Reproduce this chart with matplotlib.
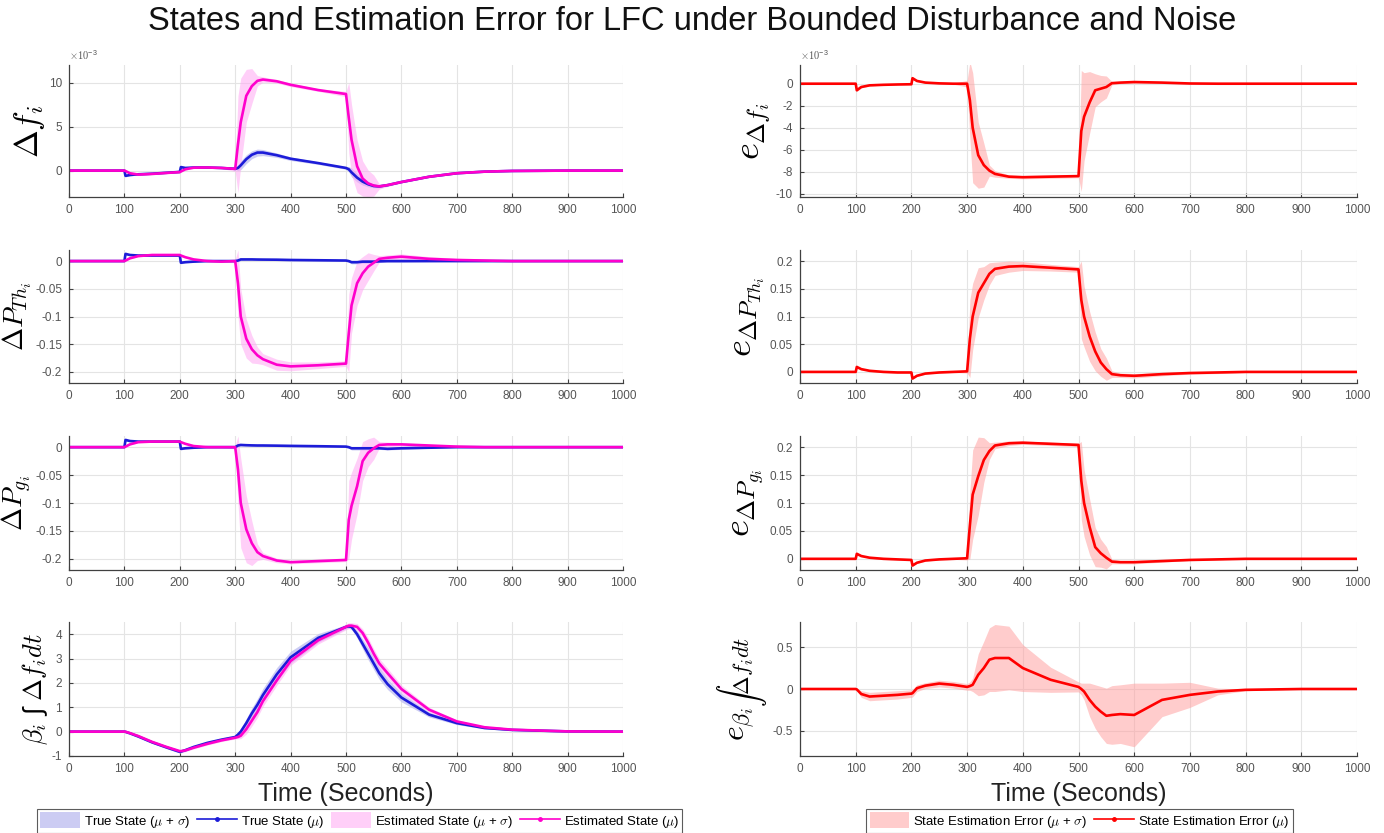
import matplotlib
matplotlib.use('Agg')
import matplotlib.pyplot as plt
import numpy as np
from matplotlib.patches import Patch
from matplotlib.lines import Line2D
from matplotlib.ticker import FuncFormatter

plt.rcParams['font.family'] = ['Liberation Sans', 'DejaVu Sans']
plt.rcParams['mathtext.fontset'] = 'cm'
plt.rcParams['axes.unicode_minus'] = False

# ---------------- data ----------------
T = [0, 100, 102, 110, 125, 150, 175, 200, 202, 210, 225, 250, 275, 300, 305, 310, 320, 330, 340, 350,
     375, 400, 450, 500, 505, 510, 520, 530, 540, 550, 560, 575, 600, 650, 700, 750, 800, 900, 1000]

# Delta f_i  (x 1e-3)
true_df = [0, 0, -0.6, -0.5, -0.42, -0.35, -0.25, -0.15, 0.4, 0.3, 0.35, 0.35, 0.3, 0.2,
           0.3, 0.6, 1.3, 1.8, 2.05, 2.05, 1.75, 1.35, 0.85, 0.3,
           0.15, -0.2, -0.8, -1.25, -1.55, -1.75, -1.8, -1.65, -1.3, -0.7,
           -0.3, -0.12, -0.04, 0, 0]
sig_true_df = [0.02, 0.02, 0.1, 0.1, 0.08, 0.06, 0.06, 0.06, 0.1, 0.08, 0.05, 0.05, 0.05, 0.05,
               0.3, 0.5, 0.5, 0.45, 0.4, 0.35, 0.25, 0.2, 0.15, 0.15,
               0.3, 0.5, 0.5, 0.4, 0.3, 0.2, 0.15, 0.1, 0.08, 0.06,
               0.04, 0.02, 0.01, 0.01, 0.01]
est_df = [0, 0, -0.05, -0.3, -0.45, -0.38, -0.27, -0.17, -0.1, 0.15, 0.33, 0.35, 0.3, 0.2,
          3.0, 5.5, 8.5, 9.6, 10.2, 10.35, 10.15, 9.75, 9.15, 8.7,
          6.0, 3.5, 0.5, -0.9, -1.45, -1.7, -1.8, -1.65, -1.3, -0.7,
          -0.3, -0.12, -0.04, 0, 0]
sig_est_df = [0.02, 0.02, 0.05, 0.1, 0.08, 0.06, 0.06, 0.06, 0.06, 0.08, 0.05, 0.05, 0.05, 0.3,
              5.5, 5.0, 3.0, 2.0, 0.6, 0.3, 0.2, 0.2, 0.15, 0.3,
              4.0, 4.0, 3.0, 2.0, 1.5, 1.2, 0.3, 0.15, 0.1, 0.08,
              0.05, 0.03, 0.02, 0.01, 0.01]

# Delta P_Th_i
true_pth = [0, 0, 0.013, 0.011, 0.01, 0.01, 0.01, 0.01, -0.003, -0.002, -0.001, 0, 0, 0,
            0.001, 0.003, 0.003, 0.003, 0.0028, 0.0027, 0.0025, 0.002, 0.0015, 0.001,
            0.0, -0.002, -0.002, -0.001, -0.001, -0.001, -0.0005, 0, 0, 0,
            0, 0, 0, 0, 0]
sig_true_pth = [0.0005, 0.0005, 0.002, 0.001, 0.001, 0.001, 0.001, 0.001, 0.002, 0.001, 0.001, 0.0005, 0.0005, 0.0005,
                0.002, 0.002, 0.0015, 0.0015, 0.0015, 0.0015, 0.0015, 0.0015, 0.0015, 0.0015,
                0.002, 0.003, 0.003, 0.003, 0.003, 0.002, 0.002, 0.002, 0.002, 0.001,
                0.0005, 0.0005, 0.0005, 0.0005, 0.0005]
est_pth = [0, 0, 0.001, 0.005, 0.009, 0.011, 0.011, 0.011, 0.01, 0.007, 0.003, 0.0, -0.001, 0.0,
           -0.04, -0.1, -0.14, -0.159, -0.17, -0.177, -0.187, -0.19, -0.188, -0.185,
           -0.13, -0.08, -0.04, -0.022, -0.01, -0.003, 0.004, 0.006, 0.008, 0.004,
           0.002, 0.001, 0, 0, 0]
sig_est_pth = [0.0005, 0.0005, 0.001, 0.001, 0.001, 0.001, 0.001, 0.001, 0.001, 0.001, 0.001, 0.001, 0.001, 0.003,
               0.06, 0.05, 0.035, 0.025, 0.015, 0.01, 0.01, 0.008, 0.006, 0.005,
               0.07, 0.05, 0.04, 0.03, 0.025, 0.015, 0.006, 0.005, 0.005, 0.004,
               0.003, 0.002, 0.001, 0.0005, 0.0005]

# Delta P_g_i
true_pg = [0, 0, 0.013, 0.011, 0.01, 0.01, 0.01, 0.01, -0.003, -0.002, -0.001, 0, 0, 0,
           0.003, 0.004, 0.0035, 0.0032, 0.003, 0.003, 0.0027, 0.0023, 0.0017, 0.001,
           0.0, -0.002, -0.002, -0.002, -0.002, -0.002, -0.002, -0.003, -0.002, -0.001,
           0, 0, 0, 0, 0]
sig_true_pg = sig_true_pth
est_pg = [0, 0, 0.001, 0.005, 0.009, 0.01, 0.01, 0.01, 0.009, 0.006, 0.002, 0.0, 0.0, 0.0,
          -0.04, -0.1, -0.147, -0.172, -0.188, -0.195, -0.203, -0.206, -0.204, -0.202,
          -0.13, -0.105, -0.07, -0.025, -0.01, -0.002, 0.004, 0.005, 0.005, 0.003,
          0.001, 0.0, 0, 0, 0]
sig_est_pg = [0.0005, 0.0005, 0.001, 0.001, 0.001, 0.001, 0.001, 0.001, 0.001, 0.001, 0.001, 0.001, 0.001, 0.003,
              0.06, 0.08, 0.06, 0.04, 0.015, 0.006, 0.004, 0.003, 0.003, 0.003,
              0.07, 0.06, 0.05, 0.035, 0.025, 0.02, 0.006, 0.004, 0.003, 0.002,
              0.001, 0.0005, 0.0005, 0.0005, 0.0005]

# beta_i * integral of Delta f_i
true_int = [0, 0, -0.01, -0.07, -0.2, -0.44, -0.64, -0.83, -0.82, -0.76, -0.63, -0.46, -0.33, -0.22,
            -0.12, 0.0, 0.35, 0.75, 1.1, 1.5, 2.35, 3.05, 3.85, 4.3,
            4.32, 4.3, 4.0, 3.6, 3.2, 2.8, 2.4, 1.95, 1.4, 0.7,
            0.35, 0.15, 0.07, 0.01, 0]
sig_true_int = [0.005, 0.005, 0.01, 0.02, 0.03, 0.04, 0.05, 0.05, 0.05, 0.05, 0.05, 0.05, 0.05, 0.05,
                0.08, 0.12, 0.18, 0.22, 0.25, 0.27, 0.28, 0.25, 0.18, 0.08,
                0.08, 0.1, 0.15, 0.2, 0.25, 0.25, 0.25, 0.22, 0.18, 0.1,
                0.06, 0.04, 0.02, 0.005, 0.005]
est_int = [0, 0, -0.005, -0.06, -0.18, -0.42, -0.62, -0.8, -0.8, -0.77, -0.66, -0.5, -0.36, -0.25,
           -0.22, -0.17, 0.1, 0.45, 0.8, 1.25, 2.1, 2.9, 3.75, 4.3,
           4.35, 4.35, 4.3, 4.05, 3.65, 3.2, 2.8, 2.4, 1.75, 0.9,
           0.42, 0.18, 0.08, 0.01, 0]
sig_est_int = [0.005, 0.005, 0.01, 0.02, 0.03, 0.04, 0.05, 0.05, 0.05, 0.05, 0.05, 0.05, 0.05, 0.05,
               0.08, 0.12, 0.2, 0.22, 0.22, 0.22, 0.2, 0.18, 0.15, 0.12,
               0.12, 0.12, 0.14, 0.17, 0.2, 0.2, 0.2, 0.2, 0.16, 0.1,
               0.06, 0.04, 0.02, 0.005, 0.005]

# state estimation errors
err_df = [0, 0, -0.6, -0.3, -0.15, -0.1, -0.07, -0.05, 0.5, 0.25, 0.1, 0.03, 0.0, 0.0,
          -1.5, -4.0, -6.5, -7.4, -7.9, -8.2, -8.45, -8.5, -8.45, -8.4,
          -4.3, -3.0, -1.7, -0.6, -0.45, -0.3, 0.05, 0.1, 0.15, 0.1,
          0.02, 0, 0, 0, 0]
sig_err_df = [0.02, 0.02, 0.1, 0.08, 0.05, 0.04, 0.04, 0.04, 0.1, 0.06, 0.04, 0.04, 0.04, 0.3,
              3.5, 5.0, 3.0, 2.0, 0.5, 0.3, 0.15, 0.15, 0.15, 0.15,
              5.5, 4.0, 2.8, 1.5, 1.2, 1.0, 0.15, 0.1, 0.1, 0.08,
              0.05, 0.03, 0.02, 0.01, 0.01]
err_pth = [0, 0, 0.009, 0.005, 0.002, 0.0, -0.001, -0.001, -0.012, -0.007, -0.003, -0.001, 0.0, 0.001,
           0.06, 0.1, 0.143, 0.16, 0.177, 0.186, 0.19, 0.191, 0.188, 0.185,
           0.13, 0.1, 0.064, 0.037, 0.017, 0.005, -0.004, -0.006, -0.007, -0.004,
           -0.002, -0.001, 0, 0, 0]
sig_err_pth = [0.0005, 0.0005, 0.001, 0.001, 0.001, 0.001, 0.001, 0.001, 0.001, 0.001, 0.001, 0.001, 0.001, 0.003,
               0.07, 0.06, 0.045, 0.03, 0.02, 0.012, 0.01, 0.008, 0.006, 0.005,
               0.07, 0.055, 0.045, 0.035, 0.025, 0.02, 0.006, 0.004, 0.004, 0.003,
               0.002, 0.002, 0.001, 0.0005, 0.0005]
err_pg = [0, 0, 0.009, 0.005, 0.002, 0.0, -0.001, -0.002, -0.012, -0.007, -0.003, -0.001, 0.0, 0.001,
          0.06, 0.115, 0.148, 0.177, 0.193, 0.203, 0.207, 0.208, 0.206, 0.204,
          0.14, 0.1, 0.057, 0.021, 0.01, 0.002, -0.005, -0.006, -0.006, -0.004,
          -0.002, -0.001, 0, 0, 0]
sig_err_pg = [0.0005, 0.0005, 0.001, 0.001, 0.001, 0.001, 0.001, 0.001, 0.001, 0.001, 0.001, 0.001, 0.001, 0.003,
              0.06, 0.08, 0.07, 0.04, 0.015, 0.006, 0.004, 0.003, 0.003, 0.003,
              0.07, 0.06, 0.05, 0.035, 0.025, 0.02, 0.004, 0.003, 0.003, 0.002,
              0.001, 0.0005, 0.0005, 0.0005, 0.0005]
err_int = [0, 0, -0.005, -0.06, -0.09, -0.08, -0.07, -0.055, -0.05, 0.01, 0.04, 0.065, 0.05, 0.025,
           0.035, 0.05, 0.17, 0.25, 0.35, 0.37, 0.37, 0.25, 0.11, 0.025,
           0.0, -0.03, -0.13, -0.21, -0.27, -0.32, -0.31, -0.3, -0.31, -0.13,
           -0.07, -0.03, -0.01, 0, 0]
sig_err_int = [0.002, 0.002, 0.01, 0.04, 0.05, 0.05, 0.05, 0.045, 0.045, 0.04, 0.035, 0.04, 0.04, 0.04,
               0.05, 0.08, 0.25, 0.32, 0.38, 0.4, 0.38, 0.28, 0.15, 0.06,
               0.07, 0.1, 0.2, 0.26, 0.3, 0.33, 0.35, 0.35, 0.38, 0.2,
               0.15, 0.04, 0.01, 0.003, 0.002]

x_ticks = list(range(0, 1001, 100))
title = 'States and Estimation Error for LFC under Bounded Disturbance and Noise'
left_labels = [r'$\Delta f_i$', r'$\Delta P_{Th_i}$', r'$\Delta P_{g_i}$', '$\\beta_i$ \u222b $\\Delta f_i dt$']
right_labels = [r'$e_{\Delta f_i}$', r'$e_{\Delta P_{Th_i}}$', r'$e_{\Delta P_{g_i}}$',
                r'$e_{\beta_i \int \Delta f_i dt}$']
left_label_sizes = [24, 20, 20, 19]
right_label_sizes = [26, 26, 26, 23]
legend_left = [r'True State ($\mu$ + $\sigma$)', r'True State ($\mu$)',
               r'Estimated State ($\mu$ + $\sigma$)', r'Estimated State ($\mu$)']
legend_right = [r'State Estimation Error ($\mu$ + $\sigma$)', r'State Estimation Error ($\mu$)']

# ---------------- style ----------------
C_BLUE = '#1c1cd8'
C_BLUE_BAND = '#c4c4f2'
C_MAG = '#ff00cc'
C_MAG_BAND = '#ffa8f4'
C_RED = '#ff0000'
C_RED_BAND = '#ffa2a2'
TICK_C = '#555555'
SPINE_C = '#404040'

fig = plt.figure(figsize=(13.84, 8.33), dpi=100)
W, H = 1384.0, 833.0
rows = [(65, 197), (250, 383), (436, 570), (622, 756)]
cols = [(69, 623), (800, 1357)]

def make_ax(c, r):
    x0, x1 = cols[c]
    y0, y1 = rows[r]
    return fig.add_axes([x0 / W, 1 - y1 / H, (x1 - x0) / W, (y1 - y0) / H])

def style(ax, ylim, yticks, fmt):
    ax.set_xlim(0, 1000)
    ax.set_ylim(*ylim)
    ax.set_xticks(x_ticks)
    ax.set_yticks(yticks)
    ax.yaxis.set_major_formatter(FuncFormatter(fmt))
    ax.grid(True, color='#e4e4e4', lw=0.8)
    ax.set_axisbelow(True)
    for s in ['top', 'right']:
        ax.spines[s].set_visible(False)
    for s in ['left', 'bottom']:
        ax.spines[s].set_color(SPINE_C)
        ax.spines[s].set_linewidth(0.9)
    ax.tick_params(direction='in', length=3, labelsize=8.5, labelcolor=TICK_C, color=SPINE_C, pad=5)

g = lambda v, p: '%g' % round(v, 6)
gm3 = lambda v, p: '%g' % round(v * 1e3, 6)

def band(ax, mean, sig, color, alpha, scale=1.0):
    m = np.array(mean) * scale
    s = np.array(sig) * scale
    ax.fill_between(T, m - s, m + s, color=color, alpha=alpha, lw=0)

def state_panel(r, tm, ts, em, es, ylim, yticks, fmt, scale=1.0):
    ax = make_ax(0, r)
    band(ax, tm, ts, C_BLUE_BAND, 0.85, scale)
    band(ax, em, es, C_MAG_BAND, 0.55, scale)
    ax.plot(T, np.array(tm) * scale, color=C_BLUE, lw=1.9)
    ax.plot(T, np.array(em) * scale, color=C_MAG, lw=1.9)
    style(ax, ylim, yticks, fmt)
    ax.set_ylabel(left_labels[r], fontsize=left_label_sizes[r], labelpad=1)
    return ax

def err_panel(r, m, s, ylim, yticks, fmt, scale=1.0):
    ax = make_ax(1, r)
    band(ax, m, s, C_RED_BAND, 0.55, scale)
    ax.plot(T, np.array(m) * scale, color=C_RED, lw=1.9)
    style(ax, ylim, yticks, fmt)
    ax.set_ylabel(right_labels[r], fontsize=right_label_sizes[r], labelpad=2)
    return ax

a1 = state_panel(0, true_df, sig_true_df, est_df, sig_est_df, (-3e-3, 12e-3), [0, 5e-3, 10e-3], gm3, 1e-3)
a1.text(0, 1.02, r'$\times 10^{\mathregular{-3}}$', transform=a1.transAxes, fontsize=7.5, color=TICK_C,
        ha='left', va='bottom')
state_panel(1, true_pth, sig_true_pth, est_pth, sig_est_pth, (-0.22, 0.02), [-0.2, -0.15, -0.1, -0.05, 0], g)
state_panel(2, true_pg, sig_true_pg, est_pg, sig_est_pg, (-0.22, 0.02), [-0.2, -0.15, -0.1, -0.05, 0], g)
a4 = state_panel(3, true_int, sig_true_int, est_int, sig_est_int, (-1, 4.5), [-1, 0, 1, 2, 3, 4], g)
a4.set_xlabel('Time (Seconds)', fontsize=18, color='#222222', labelpad=5)

b1 = err_panel(0, err_df, sig_err_df, (-10.3e-3, 1.7e-3), [-10e-3, -8e-3, -6e-3, -4e-3, -2e-3, 0], gm3, 1e-3)
b1.text(0, 1.02, r'$\times 10^{\mathregular{-3}}$', transform=b1.transAxes, fontsize=7.5, color=TICK_C,
        ha='left', va='bottom')
err_panel(1, err_pth, sig_err_pth, (-0.02, 0.22), [0, 0.05, 0.1, 0.15, 0.2], g)
err_panel(2, err_pg, sig_err_pg, (-0.02, 0.22), [0, 0.05, 0.1, 0.15, 0.2], g)
b4 = err_panel(3, err_int, sig_err_int, (-0.8, 0.8), [-0.5, 0, 0.5], g)
b4.set_xlabel('Time (Seconds)', fontsize=18, color='#222222', labelpad=5)

fig.text(0.5, 1 - 22 / H, title, ha='center', va='center', fontsize=23.5, color='#111111')

h_left = [Patch(facecolor=C_BLUE_BAND, alpha=0.85, edgecolor='none'),
          Line2D([], [], color=C_BLUE, lw=1.2, marker='.', markersize=5),
          Patch(facecolor=C_MAG_BAND, alpha=0.55, edgecolor='none'),
          Line2D([], [], color=C_MAG, lw=1.2, marker='.', markersize=5)]
h_right = [Patch(facecolor=C_RED_BAND, alpha=0.55, edgecolor='none'),
           Line2D([], [], color=C_RED, lw=1.2, marker='.', markersize=5)]
leg_kw = dict(loc='center', fontsize=9.5, frameon=True, fancybox=False, edgecolor='#333333',
              handlelength=3.0, handleheight=1.4, handletextpad=0.3, columnspacing=0.55, borderpad=0.25,
              borderaxespad=0)
l1 = fig.legend(h_left, legend_left, bbox_to_anchor=((38 + 681) / 2 / W, 1 - 821 / H), ncol=4, **leg_kw)
l2 = fig.legend(h_right, legend_right, bbox_to_anchor=((865 + 1294) / 2 / W, 1 - 821 / H), ncol=2, **leg_kw)
for l in (l1, l2):
    l.get_frame().set_linewidth(0.8)

fig.savefig('out.png', dpi=100)
